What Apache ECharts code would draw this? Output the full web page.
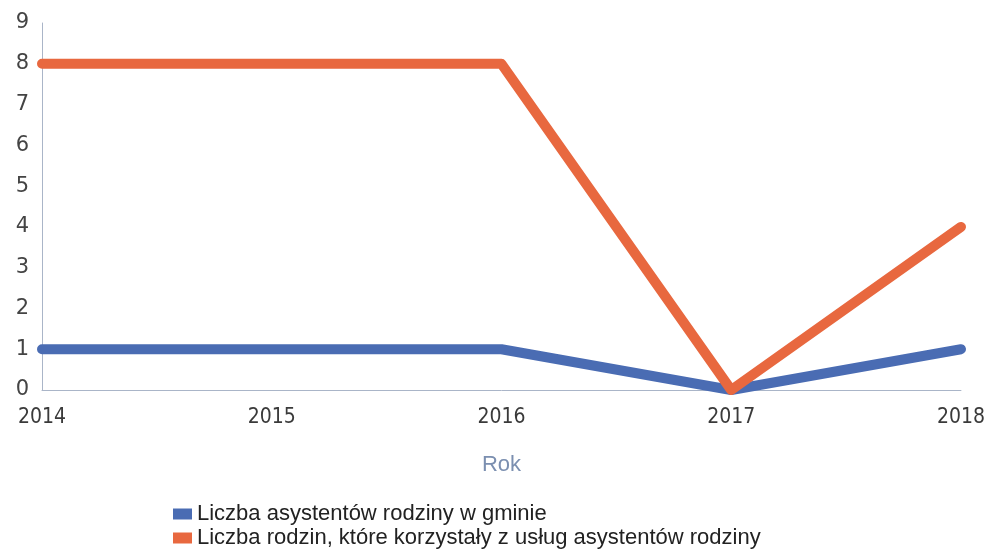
<!DOCTYPE html>
<html>
<head>
<meta charset="utf-8">
<script src="https://cdn.jsdelivr.net/npm/echarts@6/dist/echarts.min.js"></script>
<style>
  html, body { margin: 0; padding: 0; background: #ffffff; }
  #chart { width: 988px; height: 550px; }
</style>
</head>
<body>
<div id="chart"></div>
<script>
// Years on the horizontal axis
const years = ['2014', '2015', '2016', '2017', '2018'];
// Number of family assistants in the municipality
const assistants = [1, 1, 1, 0, 1];
// Number of families that used family assistant services
const families = [8, 8, 8, 0, 4];

const seriesNames = [
  'Liczba asystentów rodziny w gminie',
  'Liczba rodzin, które korzystały z usług asystentów rodziny'
];
const axisTitle = 'Rok';

const colors = ['#4a6cb3', '#e8683f'];

// One legend block per series, stacked one above the other
const legendBase = {
  left: 168,
  itemWidth: 19,
  itemHeight: 11,
  itemGap: 0,
  icon: 'rect',
  textStyle: { fontFamily: 'Liberation Sans', fontSize: 22, color: '#222222' }
};

const chart = echarts.init(document.getElementById('chart'));
chart.setOption({
  backgroundColor: '#ffffff',
  animation: false,
  grid: { left: 42, right: 22, top: 23, bottom: 160 },
  legend: [
    Object.assign({}, legendBase, { top: 498, data: [seriesNames[0]] }),
    Object.assign({}, legendBase, { top: 522, data: [seriesNames[1]] })
  ],
  xAxis: {
    type: 'category',
    data: years,
    boundaryGap: false,
    name: axisTitle,
    nameLocation: 'middle',
    nameGap: 64,
    nameTextStyle: { fontFamily: 'Liberation Sans', fontSize: 22, color: '#7b8fb0' },
    axisLine: { lineStyle: { color: '#aab5c8', width: 1 } },
    axisTick: { show: false },
    axisLabel: {
      fontFamily: 'DejaVu Sans Condensed',
      fontSize: 21,
      color: '#3a3a3a',
      margin: 17
    }
  },
  yAxis: {
    type: 'value',
    min: 0,
    max: 9,
    interval: 1,
    axisLine: { show: true, lineStyle: { color: '#aab5c8', width: 1 } },
    axisTick: { show: false },
    splitLine: { show: false },
    axisLabel: {
      fontFamily: 'DejaVu Sans',
      fontSize: 21,
      color: '#444444',
      margin: 13
    }
  },
  series: [
    {
      name: seriesNames[0],
      type: 'line',
      data: assistants,
      symbol: 'none',
      color: colors[0],
      lineStyle: { width: 10, color: colors[0], cap: 'round', join: 'round' },
      z: 2
    },
    {
      name: seriesNames[1],
      type: 'line',
      data: families,
      symbol: 'none',
      color: colors[1],
      lineStyle: { width: 10, color: colors[1], cap: 'round', join: 'round' },
      z: 3
    }
  ]
});
</script>
</body>
</html>
